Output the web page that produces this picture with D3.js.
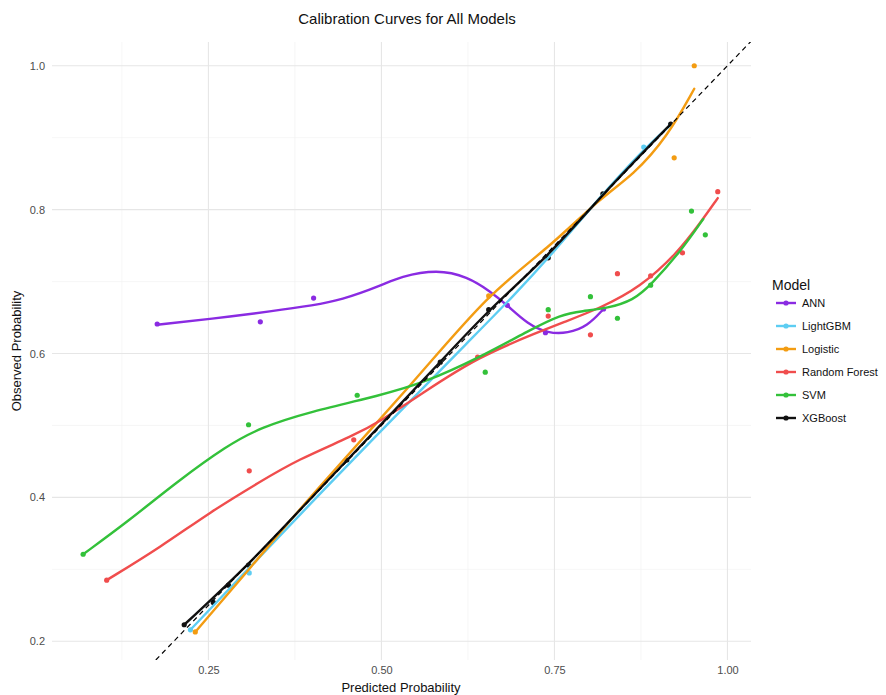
<!DOCTYPE html>
<html>
<head>
<meta charset="utf-8">
<script src="https://cdn.jsdelivr.net/npm/d3@7"></script>
<style>
  body { margin: 0; background: #fff; }
  svg { font-family: "Liberation Sans", Arial, sans-serif; }
</style>
</head>
<body>
<svg id="chart" width="886" height="695"></svg>
<script>
// Calibration curves for all models

const models = ["ANN", "LightGBM", "Logistic", "Random Forest", "SVM", "XGBoost"];
const colors = ["#8a2be2", "#5dcdf2", "#f39c12", "#f04d4d", "#33c13a", "#111111"];

const xTicks = [0.25, 0.50, 0.75, 1.00];
const yTicks = [0.2, 0.4, 0.6, 0.8, 1.0];

// binned points [predicted, observed]
const annPoints = [[0.176, 0.641], [0.325, 0.644], [0.402, 0.677], [0.682, 0.667], [0.737, 0.629], [0.821, 0.662]];
const lgbPoints = [[0.224, 0.216], [0.309, 0.295], [0.879, 0.887], [0.918, 0.918]];
const logPoints = [[0.231, 0.213], [0.655, 0.680], [0.923, 0.872], [0.952, 1.000]];
const rfPoints = [[0.103, 0.285], [0.309, 0.437], [0.460, 0.480], [0.639, 0.595], [0.741, 0.652],
  [0.802, 0.626], [0.841, 0.711], [0.889, 0.708], [0.935, 0.740], [0.986, 0.825]];
const svmPoints = [[0.069, 0.321], [0.308, 0.501], [0.465, 0.542], [0.650, 0.574], [0.741, 0.661],
  [0.802, 0.679], [0.841, 0.649], [0.889, 0.695], [0.948, 0.798], [0.968, 0.765]];
const xgbPoints = [[0.215, 0.223], [0.257, 0.254], [0.279, 0.278], [0.308, 0.306], [0.45, 0.452],
  [0.585, 0.588], [0.655, 0.661], [0.741, 0.733], [0.82, 0.822], [0.918, 0.919]];

// smoothed curves
const annCurve = [[0.176, 0.640], [0.253, 0.648], [0.344, 0.659], [0.402, 0.667], [0.441, 0.674],
  [0.499, 0.694], [0.527, 0.707], [0.581, 0.717], [0.624, 0.707], [0.658, 0.686], [0.682, 0.667],
  [0.711, 0.641], [0.741, 0.628], [0.769, 0.628], [0.798, 0.638], [0.821, 0.662]];
const lgbCurve = [[0.224, 0.216], [0.309, 0.302], [0.40, 0.394], [0.50, 0.493], [0.561, 0.553],
  [0.62, 0.611], [0.691, 0.680], [0.75, 0.742], [0.816, 0.818], [0.879, 0.884], [0.918, 0.918]];
const logCurve = [[0.231, 0.213], [0.309, 0.300], [0.40, 0.405], [0.546, 0.559], [0.655, 0.684],
  [0.741, 0.746], [0.816, 0.816], [0.864, 0.848], [0.913, 0.901], [0.952, 0.968]];
const rfCurve = [[0.103, 0.285], [0.181, 0.331], [0.253, 0.380], [0.325, 0.422], [0.378, 0.452],
  [0.460, 0.486], [0.499, 0.506], [0.561, 0.546], [0.639, 0.595], [0.730, 0.631], [0.759, 0.642],
  [0.816, 0.663], [0.874, 0.692], [0.928, 0.740], [0.961, 0.782], [0.986, 0.816]];
const svmCurve = [[0.069, 0.321], [0.133, 0.366], [0.205, 0.422], [0.277, 0.472], [0.325, 0.497],
  [0.397, 0.519], [0.499, 0.542], [0.561, 0.559], [0.643, 0.595], [0.715, 0.633],
  [0.759, 0.654], [0.790, 0.659], [0.827, 0.663], [0.864, 0.674], [0.889, 0.695], [0.934, 0.744],
  [0.965, 0.787]];
const xgbCurve = [[0.215, 0.223], [0.308, 0.306], [0.40, 0.401], [0.50, 0.502], [0.585, 0.588],
  [0.655, 0.661], [0.741, 0.735], [0.82, 0.822], [0.918, 0.919]];

const pointSets = [annPoints, lgbPoints, logPoints, rfPoints, svmPoints, xgbPoints];
const curveSets = [annCurve, lgbCurve, logCurve, rfCurve, svmCurve, xgbCurve];

const svg = d3.select("#chart");
const panel = { left: 52, right: 751, top: 42, bottom: 660 };

const x = d3.scaleLinear().domain([0.024, 1.034]).range([panel.left, panel.right]);
const y = d3.scaleLinear().domain([0.174, 1.033]).range([panel.bottom, panel.top]);

// minor grid
const xMinor = xTicks.map(t => t - 0.125);
const yMinor = yTicks.slice(0, -1).map(t => t + 0.1);
const grid = svg.append("g");
grid.selectAll(".xminor").data(xMinor).enter().append("line")
  .attr("x1", d => x(d)).attr("x2", d => x(d))
  .attr("y1", panel.top).attr("y2", panel.bottom)
  .attr("stroke", "#f0f0f0").attr("stroke-width", 0.6);
grid.selectAll(".yminor").data(yMinor).enter().append("line")
  .attr("x1", panel.left).attr("x2", panel.right)
  .attr("y1", d => y(d)).attr("y2", d => y(d))
  .attr("stroke", "#f0f0f0").attr("stroke-width", 0.6);
// major grid
grid.selectAll(".xmajor").data(xTicks).enter().append("line")
  .attr("x1", d => x(d)).attr("x2", d => x(d))
  .attr("y1", panel.top).attr("y2", panel.bottom)
  .attr("stroke", "#e6e6e6").attr("stroke-width", 1.1);
grid.selectAll(".ymajor").data(yTicks).enter().append("line")
  .attr("x1", panel.left).attr("x2", panel.right)
  .attr("y1", d => y(d)).attr("y2", d => y(d))
  .attr("stroke", "#e6e6e6").attr("stroke-width", 1.1);

// axes (labels only, like theme_minimal)
const xAxis = svg.append("g")
  .attr("transform", `translate(0,${panel.bottom + 3})`)
  .call(d3.axisBottom(x).tickValues(xTicks).tickFormat(d3.format(".2f")).tickSize(0));
const yAxis = svg.append("g")
  .attr("transform", `translate(${panel.left - 4},0)`)
  .call(d3.axisLeft(y).tickValues(yTicks).tickFormat(d3.format(".1f")).tickSize(0));
[xAxis, yAxis].forEach(a => {
  a.select(".domain").remove();
  a.selectAll("text").attr("fill", "#4d4d4d").style("font-size", "11px")
    .style("font-family", "Liberation Sans, Arial, sans-serif");
});

svg.append("defs").append("clipPath").attr("id", "clip")
  .append("rect").attr("x", panel.left).attr("y", panel.top)
  .attr("width", panel.right - panel.left).attr("height", panel.bottom - panel.top);

const plot = svg.append("g").attr("clip-path", "url(#clip)");

// points
pointSets.forEach((pts, i) => {
  plot.append("g").selectAll("circle").data(pts).enter().append("circle")
    .attr("cx", d => x(d[0])).attr("cy", d => y(d[1]))
    .attr("r", 2.6).attr("fill", colors[i]);
});

// smoothed lines
const line = d3.line().x(d => x(d[0])).y(d => y(d[1])).curve(d3.curveBasis);
curveSets.forEach((c, i) => {
  plot.append("path").datum(c)
    .attr("d", line)
    .attr("fill", "none")
    .attr("stroke", colors[i])
    .attr("stroke-width", 2.4)
    .attr("stroke-linecap", "round");
});

// perfect calibration reference
plot.append("line")
  .attr("x1", x(0.174)).attr("y1", y(0.174))
  .attr("x2", x(1.034)).attr("y2", y(1.034))
  .attr("stroke", "#000").attr("stroke-width", 1.2)
  .attr("stroke-dasharray", "5,4");

// titles
svg.append("text").attr("x", 407).attr("y", 24).attr("text-anchor", "middle")
  .style("font-size", "15px").attr("fill", "#111").text("Calibration Curves for All Models");
svg.append("text").attr("x", 401).attr("y", 692).attr("text-anchor", "middle")
  .style("font-size", "13px").attr("fill", "#111").text("Predicted Probability");
svg.append("text").attr("transform", "translate(21,351) rotate(-90)").attr("text-anchor", "middle")
  .style("font-size", "13px").attr("fill", "#111").text("Observed Probability");

// legend
const legend = svg.append("g").attr("transform", "translate(772,0)");
legend.append("text").attr("x", 0).attr("y", 290)
  .style("font-size", "14px").attr("fill", "#111").text("Model");
models.forEach((m, i) => {
  const g = legend.append("g").attr("transform", `translate(0,${303 + i * 23})`);
  g.append("line").attr("x1", 4).attr("x2", 24).attr("y1", 0).attr("y2", 0)
    .attr("stroke", colors[i]).attr("stroke-width", 2.4);
  g.append("circle").attr("cx", 14).attr("cy", 0).attr("r", 2.6).attr("fill", colors[i]);
  g.append("text").attr("x", 30).attr("y", 4)
    .style("font-size", "11px").attr("fill", "#111").text(m);
});
</script>
</body>
</html>
